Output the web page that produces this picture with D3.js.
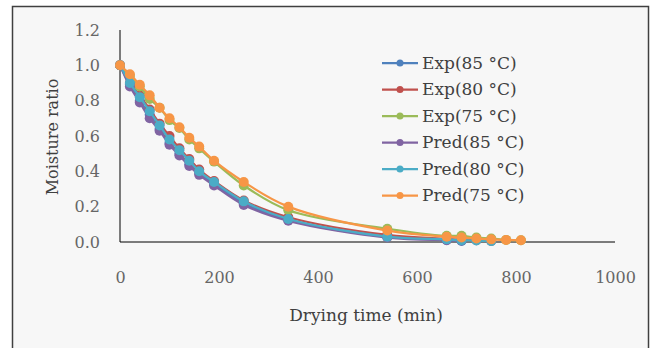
<!DOCTYPE html>
<html>
<head>
<meta charset="utf-8">
<script src="https://cdn.jsdelivr.net/npm/d3@7"></script>
<style>
  body { margin: 0; background: #fff; }
  text { font-family: "DejaVu Serif", serif; }
</style>
</head>
<body>
<svg width="655" height="348"></svg>
<script>
// drying times (min)
var times85 = [0,20,40,60,80,100,120,140,160,190,250,340,540,660,690];
var times80 = [0,20,40,60,80,100,120,140,160,190,250,340,540,660,690,720,750];
var times75 = [0,20,40,60,80,100,120,140,160,190,250,340,540,660,690,720,750,780,810];

// moisture ratio
var exp85  = [1.0,0.89,0.80,0.72,0.64,0.56,0.50,0.44,0.39,0.33,0.22,0.125,0.03,0.012,0.006];
var exp80  = [1.0,0.90,0.83,0.75,0.67,0.60,0.53,0.47,0.41,0.345,0.235,0.14,0.04,0.018,0.012,0.01,0.006];
var exp75  = [1.0,0.94,0.88,0.81,0.76,0.69,0.645,0.58,0.53,0.455,0.32,0.18,0.075,0.035,0.035,0.025,0.02,0.012,0.01];
var pred85 = [1.0,0.88,0.79,0.70,0.63,0.55,0.49,0.43,0.38,0.32,0.21,0.12,0.025,0.01,0.008];
var pred80 = [1.0,0.90,0.82,0.74,0.66,0.58,0.52,0.46,0.40,0.34,0.23,0.13,0.03,0.015,0.01,0.008,0.005];
var pred75 = [1.0,0.95,0.89,0.83,0.76,0.70,0.65,0.59,0.54,0.46,0.34,0.20,0.065,0.03,0.025,0.02,0.015,0.012,0.01];

var seriesNames = ["Exp(85 °C)","Exp(80 °C)","Exp(75 °C)","Pred(85 °C)","Pred(80 °C)","Pred(75 °C)"];
var seriesColors = ["#4F81BD","#C0504D","#9BBB59","#8064A2","#4BACC6","#F79646"];

var xTicks = [0,200,400,600,800,1000];
var yTicks = [0.0,0.2,0.4,0.6,0.8,1.0,1.2];

var series = [
  {name: seriesNames[0], color: seriesColors[0], t: times85, v: exp85},
  {name: seriesNames[1], color: seriesColors[1], t: times80, v: exp80},
  {name: seriesNames[2], color: seriesColors[2], t: times75, v: exp75},
  {name: seriesNames[3], color: seriesColors[3], t: times85, v: pred85},
  {name: seriesNames[4], color: seriesColors[4], t: times80, v: pred80},
  {name: seriesNames[5], color: seriesColors[5], t: times75, v: pred75}
];

var svg = d3.select("svg");

// chart area frame
svg.append("rect")
  .attr("x",12.5).attr("y",6.5)
  .attr("width",636).attr("height",360)
  .attr("fill","#f7f7f7")
  .attr("stroke","#404040").attr("stroke-width",1.5);

var x = d3.scaleLinear().domain([0,1000]).range([120,615]);
var y = d3.scaleLinear().domain([0,1.2]).range([242,30]);

var yAxis = svg.append("g").attr("transform","translate(120,0)")
  .call(d3.axisLeft(y).tickValues(yTicks).tickSize(0).tickPadding(20).tickFormat(d3.format(".1f")));
yAxis.select(".domain").attr("stroke","#000").attr("d","M0,"+y(1.2)+"V"+y(0));

var xAxis = svg.append("g").attr("transform","translate(0,242)")
  .call(d3.axisBottom(x).tickValues(xTicks).tickSize(0).tickPadding(30).tickFormat(d3.format("d")));
xAxis.select(".domain").attr("stroke","#000").attr("d","M"+x(0)+",0H"+x(1000));

svg.selectAll(".tick text")
  .attr("font-family","DejaVu Serif")
  .attr("font-size",16)
  .attr("fill","#666");

// axis titles
svg.append("text")
  .attr("x",366).attr("y",321)
  .attr("text-anchor","middle")
  .attr("font-size",17).attr("fill","#404040")
  .text("Drying time (min)");

svg.append("text")
  .attr("transform","translate(58,137) rotate(-90)")
  .attr("text-anchor","middle")
  .attr("font-size",16).attr("fill","#404040")
  .text("Moisture ratio");

var line = d3.line()
  .x(function(d){ return x(d[0]); })
  .y(function(d){ return y(d[1]); })
  .curve(d3.curveCatmullRom);

series.forEach(function(s){
  var pts = s.t.map(function(t,i){ return [t, s.v[i]]; });
  var g = svg.append("g");
  g.append("path")
    .attr("d", line(pts))
    .attr("fill","none")
    .attr("stroke", s.color)
    .attr("stroke-width",2.25);
  g.selectAll("circle").data(pts).enter().append("circle")
    .attr("cx", function(d){ return x(d[0]); })
    .attr("cy", function(d){ return y(d[1]); })
    .attr("r",5)
    .attr("fill", s.color);
});

// legend
var legend = svg.append("g");
series.forEach(function(s,i){
  var ly = 63 + i*26.5;
  legend.append("line")
    .attr("x1",382).attr("x2",418).attr("y1",ly).attr("y2",ly)
    .attr("stroke",s.color).attr("stroke-width",2.25);
  legend.append("circle")
    .attr("cx",400).attr("cy",ly).attr("r",3.5).attr("fill",s.color);
  legend.append("text")
    .attr("x",422).attr("y",ly).attr("dy","0.35em")
    .attr("font-size",17).attr("fill","#404040")
    .text(s.name);
});
</script>
</body>
</html>
